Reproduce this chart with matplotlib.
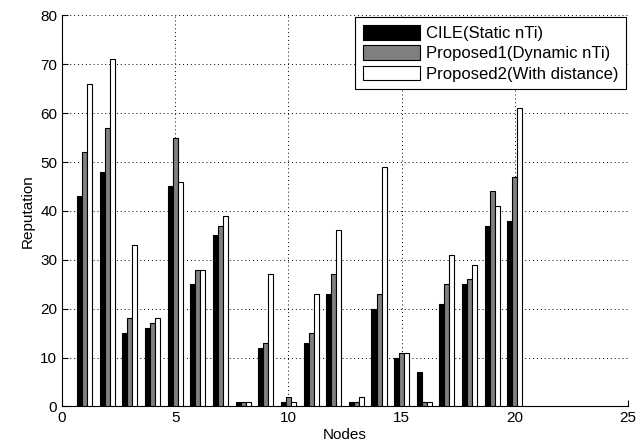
import numpy as np
import matplotlib
matplotlib.use('Agg')
import matplotlib.pyplot as plt

plt.rcParams['font.family'] = ['Liberation Sans', 'DejaVu Sans']

nodes = np.arange(1, 21)
cile = [43, 48, 15, 16, 45, 25, 35, 1, 12, 1, 13, 23, 1, 20, 10, 7, 21, 25, 37, 38]
proposed1 = [52, 57, 18, 17, 55, 28, 37, 1, 13, 2, 15, 27, 1, 23, 11, 1, 25, 26, 44, 47]
proposed2 = [66, 71, 33, 18, 46, 28, 39, 1, 27, 1, 23, 36, 2, 49, 11, 1, 31, 29, 41, 61]
labels = ["CILE(Static nTi)", "Proposed1(Dynamic nTi)", "Proposed2(With distance)"]

fig = plt.figure(figsize=(6.44, 4.46), dpi=100)
ax = fig.add_axes([0.0963, 0.0886, 0.879, 0.877])

w = 0.222
colors = ['black', '#808080', 'white']
for k, (vals, c) in enumerate(zip([cile, proposed1, proposed2], colors)):
    ax.bar(nodes + (k - 1) * w, vals, width=w, color=c, edgecolor='black',
           linewidth=0.8, label=labels[k], zorder=3)

ax.set_xlim(0, 25)
ax.set_ylim(0, 80)
ax.set_xticks([0, 5, 10, 15, 20, 25])
ax.set_yticks(np.arange(0, 81, 10))
ax.grid(True, linestyle=(0, (1, 3)), color='black', linewidth=0.7, zorder=0)
ax.tick_params(direction='in', labelsize=11, length=4)
ax.spines['top'].set_visible(False)
ax.spines['right'].set_visible(False)
for s in ax.spines.values():
    s.set_linewidth(0.8)

ax.set_xlabel("Nodes", fontsize=11, labelpad=2)
ax.set_ylabel("Reputation", fontsize=11)

leg = ax.legend(loc='upper right', fontsize=12, fancybox=False, framealpha=1,
                edgecolor='black', borderaxespad=0.12, handlelength=3.45,
                handleheight=1.0, labelspacing=0.25, borderpad=0.45,
                handletextpad=0.35)
leg.get_frame().set_linewidth(0.8)

fig.savefig("out.png")
